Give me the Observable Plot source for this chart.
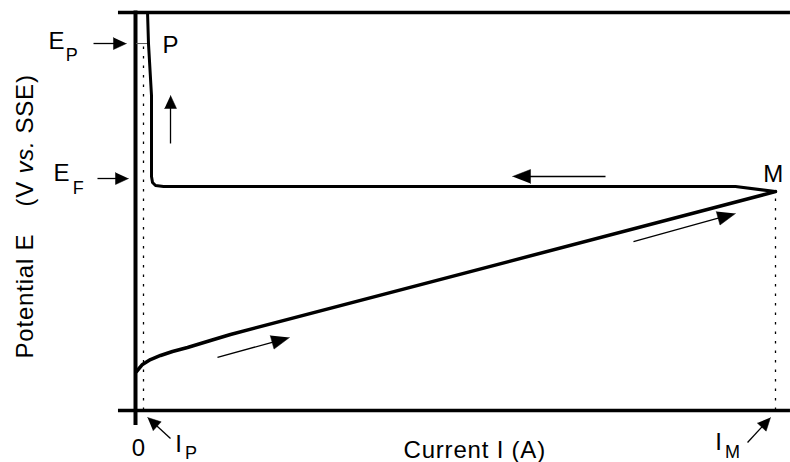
<!DOCTYPE html>
<html>
<head>
<meta charset="utf-8">
<script src="https://cdn.jsdelivr.net/npm/d3@7"></script>
<script src="https://cdn.jsdelivr.net/npm/@observablehq/plot@0.6"></script>
<style>
  html, body { margin: 0; padding: 0; background: #fff; }
  #chart svg { display: block; }
</style>
</head>
<body>
<div id="chart"></div>
<script>
// ---- Data (schematic units: current I 0..100 = I_M, potential E 0..100) ----
// Forward sweep (current increases up to M)
const forwardI = [0.16, 1.09, 2.34, 3.91, 5.78, 8.13, 11.72, 14.84, 100];
const forwardE = [9.80, 11.56, 12.81, 13.82, 14.82, 15.83, 17.59, 19.10, 55.0];
// Reverse sweep (from M back to low current, then passive rise to P)
const reverseI = [100, 93.75, 4.38, 3.13, 2.66, 2.50, 2.50, 2.03, 1.88];
const reverseE = [55.0, 56.28, 56.28, 56.53, 57.29, 58.8, 79.15, 92.2, 100];
// Characteristic values
const I_P = 1.25, I_M = 100, E_P = 92.2, E_M = 55.0;
// Annotation arrows
const arrowTailI = [-6.56, -5.94, 5.47, 73.44, 12.81, 77.81, 5.47, 95.63];
const arrowTailE = [92.21, 58.29, 67.09, 58.79, 13.32, 42.46, -7.04, -8.04];
const arrowTipI  = [-1.41, -1.09, 5.47, 58.91, 24.06, 93.75, 1.88, 99.22];
const arrowTipE  = [92.21, 58.29, 79.15, 58.79, 18.34, 49.50, -1.76, -1.76];
const arrowKind  = ["small", "small", "small", "big", "big", "big", "small", "small"];
// Text labels
const labelText = ["E", "P", "E", "F", "P", "M", "0", "I", "P", "Current I (A)", "I", "M"];
const labelI    = [-13.6, -10.9, -12.8, -9.8, 4.2, 99.69, -0.6, 6.2, 7.75, 41.88, 90.6, 92.1];
const labelE    = [90.95, 87.7, 57.54, 54.5, 89.70, 57.29, -11.31, -10.55, -12.3, -11.81, -10.05, -11.81];
const labelSub  = [false, true, false, true, false, false, false, false, true, false, false, true];
const labelCentered = [false, false, false, false, false, true, false, false, false, false, false, false];
// Y-axis title pieces (rotated)
const yTitleText = ["Potential E", "(V", "vs.", "SSE)"];
const yTitleE    = [13.07, 51.26, 59.55, 69.6];
const yTitleItalic = [false, false, true, false];

// ---- Scales (same as Plot's) ----
const xRange = [135, 775], yRange = [410, 12];
const xs = d3.scaleLinear([0, 100], xRange);
const ys = d3.scaleLinear([0, 100], yRange);

const forward = forwardI.map((v, i) => ({I: v, E: forwardE[i]}));
const reverse = reverseI.map((v, i) => ({I: v, E: reverseE[i]}));
const headSize = {small: [13, 6], big: [18, 7]};
const shafts = [], heads = [];
arrowTailI.forEach((_, i) => {
  const x1 = xs(arrowTailI[i]), y1 = ys(arrowTailE[i]);
  const x2 = xs(arrowTipI[i]), y2 = ys(arrowTipE[i]);
  const len = Math.hypot(x2 - x1, y2 - y1);
  const ux = (x2 - x1) / len, uy = (y2 - y1) / len;
  const [L, W] = headSize[arrowKind[i]];
  const bx = x2 - ux * L, by = y2 - uy * L;
  shafts.push({x1: arrowTailI[i], y1: arrowTailE[i], x2: xs.invert(bx + ux), y2: ys.invert(by + uy)});
  const pts = [[x2, y2], [bx - uy * W, by + ux * W], [bx + uy * W, by - ux * W]];
  pts.forEach(p => heads.push({id: i, I: xs.invert(p[0]), E: ys.invert(p[1])}));
});
const labels = labelText.map((t, i) => ({t, I: labelI[i], E: labelE[i], sub: labelSub[i], mid: labelCentered[i]}));
const yTitle = yTitleText.map((t, i) => ({t, E: yTitleE[i], it: yTitleItalic[i]}));

const font = "'Liberation Sans', Arial, Helvetica, sans-serif";
const chart = Plot.plot({
  width: 790,
  height: 462,
  margin: 0,
  x: {domain: [0, 100], range: xRange, axis: null},
  y: {domain: [0, 100], range: yRange, axis: null},
  style: {fontFamily: font, background: "#fff", letterSpacing: "0.8px", color: "#000"},
  marks: [
    // frame lines
    Plot.ruleY([100], {x1: -2.66, x2: 102.34, stroke: "#000", strokeWidth: 3.5}),
    Plot.ruleY([0], {x1: -2.66, x2: 102.34, stroke: "#000", strokeWidth: 3.5}),
    Plot.ruleX([0], {y1: -3.77, y2: 100.4, stroke: "#000", strokeWidth: 4}),
    // dotted guides
    Plot.ruleX([I_P], {y1: 0, y2: E_P, stroke: "#000", strokeWidth: 1.3, strokeDasharray: "2.5,7"}),
    Plot.ruleX([I_M], {y1: 0, y2: E_M - 1, stroke: "#000", strokeWidth: 1.3, strokeDasharray: "2.5,7"}),
    Plot.ruleY([E_P], {x1: 0.16, x2: 2.34, stroke: "#555", strokeWidth: 1}),
    // curve
    Plot.line(forward, {x: "I", y: "E", stroke: "#000", strokeWidth: 3.5, curve: "linear"}),
    Plot.line(reverse, {x: "I", y: "E", stroke: "#000", strokeWidth: 3, curve: "linear", strokeLinejoin: "round"}),
    // arrows
    Plot.link(shafts, {x1: "x1", y1: "y1", x2: "x2", y2: "y2", stroke: "#000", strokeWidth: 1.3}),
    Plot.line(heads, {x: "I", y: "E", z: "id", fill: "#000", stroke: "#000", strokeWidth: 0.5}),
    // labels
    Plot.text(labels.filter(d => !d.sub && !d.mid), {x: "I", y: "E", text: "t", textAnchor: "start", lineAnchor: "bottom", fontSize: 24, fill: "#000"}),
    Plot.text(labels.filter(d => !d.sub && d.mid), {x: "I", y: "E", text: "t", textAnchor: "middle", lineAnchor: "bottom", fontSize: 24, fill: "#000"}),
    Plot.text(labels.filter(d => d.sub), {x: "I", y: "E", text: "t", textAnchor: "start", lineAnchor: "bottom", fontSize: 18, fill: "#000"}),
    // y title
    Plot.text(yTitle.filter(d => !d.it), {x: -15.94, y: "E", text: "t", rotate: -90, textAnchor: "start", lineAnchor: "bottom", fontSize: 24, fill: "#000"}),
    Plot.text(yTitle.filter(d => d.it), {x: -15.94, y: "E", text: "t", rotate: -90, textAnchor: "start", lineAnchor: "bottom", fontSize: 24, fontStyle: "italic", fill: "#000"})
  ]
});
document.getElementById("chart").appendChild(chart);
</script>
</body>
</html>
